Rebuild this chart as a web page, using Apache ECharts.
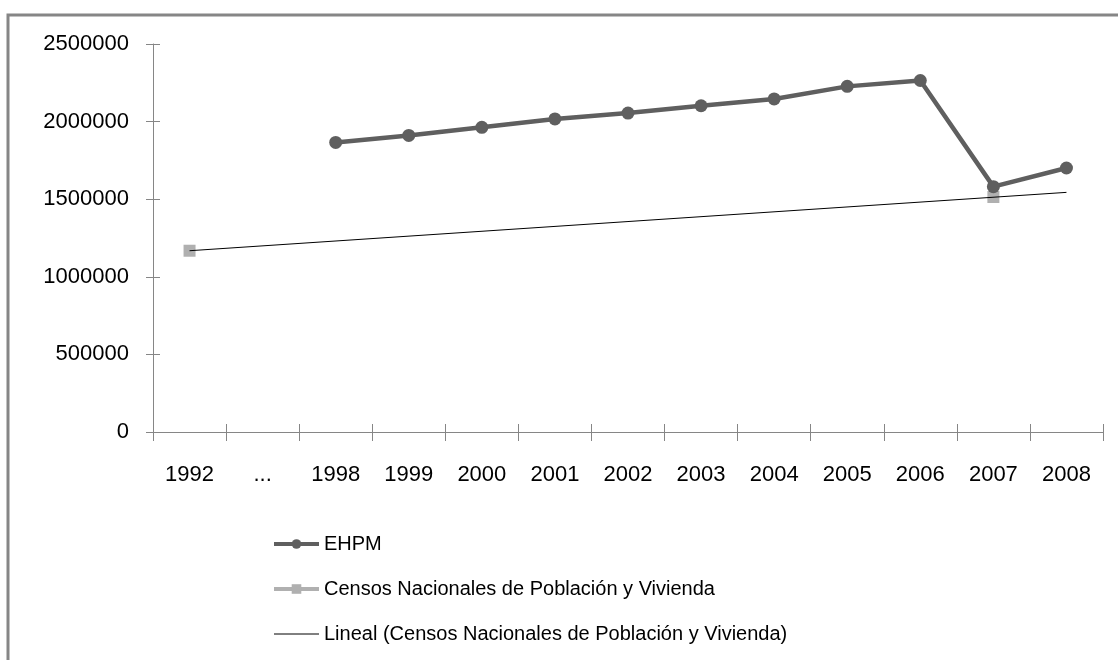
<!DOCTYPE html>
<html>
<head>
<meta charset="utf-8">
<script src="https://cdn.jsdelivr.net/npm/echarts@6/dist/echarts.min.js"></script>
<style>
html,body{margin:0;padding:0;background:#fff;}
#chart{width:1118px;height:660px;}
</style>
</head>
<body>
<div id="chart"></div>
<script>
const categories = ['1992', '...', '1998', '1999', '2000', '2001', '2002', '2003', '2004', '2005', '2006', '2007', '2008'];
const ehpm = [null, null, 1866000, 1911000, 1963000, 2017000, 2055000, 2102000, 2146000, 2227000, 2265000, 1581000, 1701000];
const censos = [1168000, null, null, null, null, null, null, null, null, null, null, 1514000, null];
const lineal = [1168000, null, null, null, null, null, null, null, null, null, null, null, 1544000];
const seriesNames = ['EHPM', 'Censos Nacionales de Población y Vivienda', 'Lineal (Censos Nacionales de Población y Vivienda)'];

const FONT = '"Liberation Sans", Arial, sans-serif';
const AX = '#868686';
const chart = echarts.init(document.getElementById('chart'), null, {renderer: 'canvas'});
const gridBox = {left: 153, right: 15, top: 44, bottom: 228, containLabel: false};
const option = {
  animation: false,
  backgroundColor: '#ffffff',
  graphic: [{
    type: 'rect', silent: true, z: 100,
    shape: {x: 8, y: 15, width: 1200, height: 800},
    style: {fill: 'none', stroke: AX, lineWidth: 3}
  }],
  grid: [Object.assign({}, gridBox), Object.assign({}, gridBox)],
  xAxis: [{
    gridIndex: 0, type: 'category', data: categories, boundaryGap: true, position: 'bottom',
    axisLine: {show: true, lineStyle: {color: AX, width: 1}},
    axisTick: {show: false},
    axisLabel: {interval: 0, margin: 32, color: '#000', fontFamily: FONT, fontSize: 22},
    splitLine: {show: false}
  }, {
    gridIndex: 1, type: 'category', data: categories, boundaryGap: true, position: 'bottom', offset: 9,
    axisLine: {show: false, onZero: false},
    axisTick: {show: true, inside: true, length: 17, interval: 0, lineStyle: {color: AX, width: 1}},
    axisLabel: {show: false}, splitLine: {show: false}
  }],
  yAxis: [{
    gridIndex: 0, type: 'value', min: 0, max: 2500000, interval: 500000, position: 'left',
    axisLine: {show: true, lineStyle: {color: AX, width: 1}},
    axisTick: {show: false},
    axisLabel: {margin: 24, color: '#000', fontFamily: FONT, fontSize: 22, formatter: function (v) { return String(v); }},
    splitLine: {show: false}
  }, {
    gridIndex: 1, type: 'value', min: 0, max: 2500000, interval: 500000, position: 'left', offset: 7,
    axisLine: {show: false, onZero: false},
    axisTick: {show: true, inside: true, length: 14, lineStyle: {color: AX, width: 1}},
    axisLabel: {show: false}, splitLine: {show: false}
  }],
  legend: {
    orient: 'vertical', left: 267, top: 529,
    itemWidth: 45, itemHeight: 12, itemGap: 25,
    textStyle: {color: '#000', fontFamily: FONT, fontSize: 20},
    data: [
      {name: seriesNames[0], lineStyle: {width: 4}},
      {name: seriesNames[1], lineStyle: {width: 4}},
      {name: seriesNames[2], lineStyle: {width: 1}, itemStyle: {opacity: 0}}
    ]
  },
  series: [{
    name: seriesNames[1], type: 'line', data: censos, connectNulls: false,
    symbol: 'rect', symbolSize: 12,
    itemStyle: {color: '#b0b0b0'},
    lineStyle: {color: '#b0b0b0', width: 4.5},
    z: 3
  }, {
    name: seriesNames[2], type: 'line', data: lineal, connectNulls: true,
    symbol: 'none',
    lineStyle: {color: '#000000', width: 1},
    itemStyle: {color: '#000000'},
    z: 4
  }, {
    name: seriesNames[0], type: 'line', data: ehpm, connectNulls: false,
    symbol: 'circle', symbolSize: 13, showSymbol: true,
    itemStyle: {color: '#5f5f5f'},
    lineStyle: {color: '#5f5f5f', width: 4.5},
    z: 5
  }, {
    name: '_ticks', type: 'line', data: [null], xAxisIndex: 1, yAxisIndex: 1,
    symbol: 'none', silent: true, lineStyle: {opacity: 0}
  }]
};
chart.setOption(option);
</script>
</body>
</html>
